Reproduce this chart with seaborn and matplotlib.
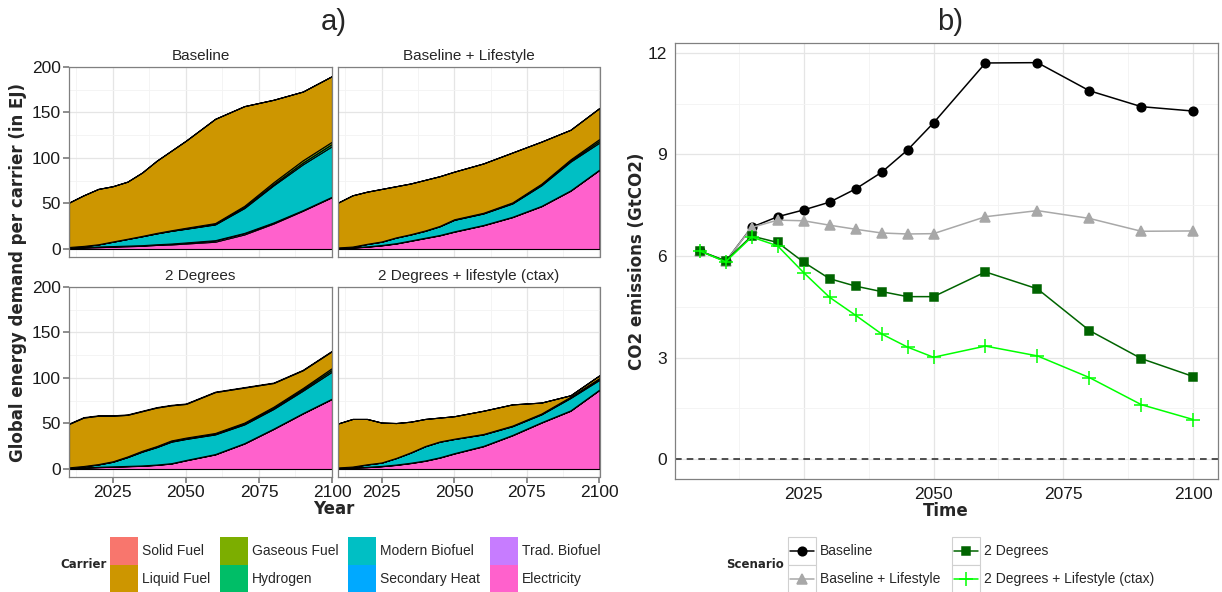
import matplotlib
matplotlib.use("Agg")
import matplotlib.pyplot as plt
import seaborn as sns
import pandas as pd
from matplotlib.patches import Rectangle
from matplotlib.lines import Line2D

# ---------------- data: panel a (EJ per carrier) ----------------
years = [2010, 2015, 2020, 2025, 2030, 2035, 2040, 2045, 2050, 2060, 2070, 2080, 2090, 2100]

carriers = ["Solid Fuel", "Liquid Fuel", "Gaseous Fuel", "Hydrogen",
            "Modern Biofuel", "Secondary Heat", "Trad. Biofuel", "Electricity"]
carrier_colors = ["#F8766D", "#CD9600", "#7CAE00", "#00BE67",
                  "#00BFC4", "#00A9FF", "#C77CFF", "#FF61CC"]
scenarios_a = ["Baseline", "Baseline + Lifestyle", "2 Degrees", "2 Degrees + lifestyle (ctax)"]

# Baseline
base_electricity = [1, 1.5, 2, 2.5, 3, 3.5, 4.5, 5, 6, 8, 16, 28, 42, 57]
base_tradbio     = [0.5, 0.5, 0.5, 0.5, 0.5, 0.5, 0.5, 0.8, 1, 1.5, 1.5, 1, 0.5, 0.3]
base_secheat     = [0.2] * 14
base_modbio      = [0.3, 1, 2.3, 4.8, 7.3, 9.8, 12, 14, 15, 17.3, 27.3, 40.8, 50.3, 55.5]
base_hydrogen    = [0, 0, 0, 0, 0, 0, 0, 0, 0.3, 0.5, 1, 1.5, 2, 2.5]
base_gas         = [0.2, 0.2, 0.2, 0.3, 0.3, 0.4, 0.5, 0.6, 0.8, 1, 1.5, 2, 2.5, 2.5]
base_liquid      = [48.8, 55.6, 60.8, 60.7, 62.7, 69.6, 79.3, 87.4, 95.7, 114.5, 109.5, 90.5, 75.5, 72]
base_solid       = [0] * 14

# Baseline + Lifestyle
life_electricity = [1, 1.5, 2.5, 4, 6, 9, 12, 15, 19, 26, 35, 47, 64, 87]
life_tradbio     = [0.2] * 14
life_secheat     = [0.2] * 14
life_modbio      = [0.1, 0.6, 2.6, 3.6, 6.1, 6.6, 7.6, 9.6, 12.6, 12.6, 14.6, 22.6, 31.6, 29.6]
life_hydrogen    = [0, 0, 0, 0, 0, 0, 0, 0, 0.2, 0.3, 0.5, 0.8, 1.2, 2]
life_gas         = [0.2, 0.2, 0.2, 0.3, 0.3, 0.3, 0.4, 0.4, 0.5, 0.5, 0.7, 1, 1.3, 2]
life_liquid      = [49.3, 56.3, 57.3, 57.7, 56.2, 55.7, 55.6, 54.6, 52.3, 54.2, 54.8, 46.2, 32.5, 34]
life_solid       = [0] * 14

# 2 Degrees
deg_electricity = [1, 1.5, 2, 2.5, 3, 3.5, 4.5, 6, 9.5, 16, 28, 44, 61, 77]
deg_tradbio     = [0.2] * 14
deg_secheat     = [0.2] * 14
deg_modbio      = [0.1, 1.1, 2.6, 5.1, 9.6, 15.1, 19.1, 23.6, 23.1, 21.6, 20.6, 21.6, 24.6, 29.6]
deg_hydrogen    = [0, 0, 0, 0, 0.2, 0.3, 0.4, 0.5, 0.5, 0.6, 0.8, 1, 1.5, 2]
deg_gas         = [0.3, 0.3, 0.4, 0.5, 0.6, 0.7, 0.8, 0.9, 1, 1, 1.2, 1.5, 1.5, 2]
deg_liquid      = [47.7, 53.2, 53.1, 50, 45.7, 43.5, 42.3, 38.6, 37, 44.9, 38.5, 26, 19.5, 18.5]
deg_solid       = [0.5] * 14

# 2 Degrees + lifestyle (ctax)
ctax_electricity = [1, 1.5, 2, 3, 4.5, 6.5, 9, 12.5, 17, 25, 37, 51, 64, 87]
ctax_tradbio     = [0.2] * 14
ctax_secheat     = [0.2] * 14
ctax_modbio      = [0.1, 0.6, 2.6, 3.6, 7.1, 11.1, 15.6, 17.1, 15.6, 12.6, 9.6, 8.6, 13.6, 10.6]
ctax_hydrogen    = [0, 0, 0, 0, 0, 0, 0, 0, 0, 0.1, 0.2, 0.4, 0.6, 1]
ctax_gas         = [0.2, 0.2, 0.2, 0.2, 0.2, 0.3, 0.3, 0.3, 0.3, 0.4, 0.5, 0.6, 0.8, 1]
ctax_liquid      = [48.3, 52.3, 49.8, 43.8, 38.3, 33.7, 29.7, 26.2, 24.7, 25.5, 23.3, 12, 1.6, 3]
ctax_solid       = [0] * 14

# ---------------- data: panel b (GtCO2) ----------------
t_years = [2005, 2010, 2015, 2020, 2025, 2030, 2035, 2040, 2045, 2050, 2060, 2070, 2080, 2090, 2100]
co2_baseline  = [6.15, 5.84, 6.85, 7.16, 7.36, 7.59, 7.98, 8.47, 9.13, 9.93, 11.70, 11.71, 10.88, 10.41, 10.28]
co2_lifestyle = [6.15, 5.84, 6.84, 7.06, 7.04, 6.91, 6.79, 6.68, 6.65, 6.66, 7.16, 7.34, 7.11, 6.73, 6.74]
co2_2deg      = [6.15, 5.86, 6.59, 6.40, 5.82, 5.33, 5.11, 4.95, 4.80, 4.80, 5.53, 5.03, 3.80, 2.97, 2.44]
co2_2deg_ls   = [6.15, 5.83, 6.56, 6.30, 5.51, 4.78, 4.25, 3.70, 3.31, 3.01, 3.34, 3.05, 2.41, 1.61, 1.17]
scenarios_b = ["Baseline", "Baseline + Lifestyle", "2 Degrees", "2 Degrees + Lifestyle (ctax)"]
scen_colors = ["#000000", "#A8A8A8", "#006400", "#00FF00"]
scen_markers = ["o", "^", "s", "+"]

# ---------------- styling ----------------
sns.set_theme(style="white")
plt.rcParams['font.family'] = ['Liberation Sans', 'DejaVu Sans']

W, H = 1222, 592
def box(l, t, r, b):
    return [l / W, 1 - b / H, (r - l) / W, (b - t) / H]
def fx(x):
    return x / W
def fy(y):
    return 1 - y / H

fig = plt.figure(figsize=(W / 100, H / 100), dpi=100)
fig.patch.set_facecolor("white")

grid_major = "#E5E5E5"
grid_minor = "#F3F3F3"
spine_col = "#808080"
title_font = dict(family="DejaVu Sans", weight="bold", size=12)

def style_axes(ax):
    ax.set_axisbelow(True)
    ax.grid(True, which="major", color=grid_major, lw=0.9)
    ax.grid(True, which="minor", color=grid_minor, lw=0.6)
    for s in ax.spines.values():
        s.set_color(spine_col)
        s.set_linewidth(0.9)
    ax.set_facecolor("white")

# ---------------- panel a ----------------
panel_layers = [
    [base_electricity, base_tradbio, base_secheat, base_modbio, base_hydrogen, base_gas, base_liquid, base_solid],
    [life_electricity, life_tradbio, life_secheat, life_modbio, life_hydrogen, life_gas, life_liquid, life_solid],
    [deg_electricity, deg_tradbio, deg_secheat, deg_modbio, deg_hydrogen, deg_gas, deg_liquid, deg_solid],
    [ctax_electricity, ctax_tradbio, ctax_secheat, ctax_modbio, ctax_hydrogen, ctax_gas, ctax_liquid, ctax_solid],
]
stack_carriers = ["Electricity", "Trad. Biofuel", "Secondary Heat", "Modern Biofuel",
                  "Hydrogen", "Gaseous Fuel", "Liquid Fuel", "Solid Fuel"]
cmap = dict(zip(carriers, carrier_colors))
stack_colors = [cmap[c] for c in stack_carriers]

boxes = [(69, 67, 332, 257), (338, 67, 599.5, 257), (69, 287, 332, 477), (338, 287, 599.5, 477)]
for i, (name, layers, bx) in enumerate(zip(scenarios_a, panel_layers, boxes)):
    ax = fig.add_axes(box(*bx))
    style_axes(ax)
    ax.stackplot(years, layers, colors=stack_colors, edgecolor="black", linewidth=0.8)
    ax.set_xlim(2010, 2100)
    ax.set_ylim(-8.8, 200)
    ax.set_xticks([2025, 2050, 2075, 2100])
    ax.set_xticks([2012.5, 2037.5, 2062.5, 2087.5], minor=True)
    ax.set_yticks([0, 50, 100, 150, 200])
    ax.set_yticks([25, 75, 125, 175], minor=True)
    ax.tick_params(which="minor", length=0)
    left = (i % 2 == 0)
    bottom = (i >= 2)
    ax.tick_params(axis="y", which="major", left=left, labelleft=left, length=4,
                   color=spine_col, labelsize=12.5, labelcolor="#1a1a1a", pad=2)
    ax.tick_params(axis="x", which="major", bottom=bottom, labelbottom=bottom, length=4,
                   color=spine_col, labelsize=12.5, labelcolor="#1a1a1a", pad=2)
    ax.text(0.5, 1.02, name, transform=ax.transAxes, ha="center", va="bottom", fontsize=11)

fig.text(fx(334), fy(22), "a)", ha="center", va="center", fontsize=21)
fig.text(fx(334), fy(509), "Year", ha="center", va="center", **title_font)
fig.text(fx(18), fy(272), "Global energy demand per carrier (in EJ)", rotation=90,
         ha="center", va="center", **title_font)

# ---------------- panel b ----------------
axb = fig.add_axes(box(675, 43, 1218, 479))
style_axes(axb)
axb.axhline(0, color="#333333", ls=(0, (4, 3)), lw=1.2, zorder=1)
series_b = [co2_baseline, co2_lifestyle, co2_2deg, co2_2deg_ls]
msizes = [6.2, 7.0, 6.0, 9.5]
for name, vals, col, mk, ms in zip(scenarios_b, series_b, scen_colors, scen_markers, msizes):
    df = pd.DataFrame({"Time": t_years, "CO2": vals})
    sns.lineplot(data=df, x="Time", y="CO2", ax=axb, color=col, marker=mk, markersize=ms,
                 mec=col, mfc=col, mew=1.1, lw=1.1, legend=False, zorder=3)
axb.set_xlim(2000.25, 2104.75)
axb.set_ylim(-0.585, 12.29)
axb.set_xticks([2025, 2050, 2075, 2100])
axb.set_xticks([2012.5, 2037.5, 2062.5, 2087.5], minor=True)
axb.set_yticks([0, 3, 6, 9, 12])
axb.set_yticks([1.5, 4.5, 7.5, 10.5], minor=True)
axb.tick_params(which="minor", length=0)
axb.tick_params(which="major", length=4, color=spine_col, labelsize=12.5,
                labelcolor="#1a1a1a", pad=2)
axb.set_xlabel("")
axb.set_ylabel("")
fig.text(fx(950), fy(22), "b)", ha="center", va="center", fontsize=21)
fig.text(fx(946), fy(511), "Time", ha="center", va="center", **title_font)
fig.text(fx(637), fy(261), "CO2 emissions (GtCO2)", rotation=90,
         ha="center", va="center", **title_font)

# ---------------- legends ----------------
leg_font = 10
fig.text(fx(84), fy(565), "Carrier", ha="center", va="center",
         family="DejaVu Sans", weight="bold", size=8.5)
key_cols = [110, 220, 348, 490]
row_tops = [537, 565]
kw, kh = 28, 27.5
for i, (c, col) in enumerate(zip(carriers, carrier_colors)):
    x0 = key_cols[i // 2]
    t0 = row_tops[i % 2]
    fig.add_artist(Rectangle((fx(x0), fy(t0 + kh)), kw / W, kh / H, transform=fig.transFigure,
                             facecolor=col, edgecolor="none"))
    fig.text(fx(x0 + kw + 4), fy(t0 + kh / 2), c, ha="left", va="center", fontsize=leg_font)

fig.text(fx(755), fy(565), "Scenario", ha="center", va="center",
         family="DejaVu Sans", weight="bold", size=8.5)
scol_x = [788, 952]
for i, (name, col, mk, ms) in enumerate(zip(scenarios_b, scen_colors, scen_markers, msizes)):
    x0 = scol_x[i // 2]
    t0 = row_tops[i % 2]
    fig.add_artist(Rectangle((fx(x0), fy(t0 + kh)), kw / W, kh / H, transform=fig.transFigure,
                             facecolor="white", edgecolor="#D0D0D0", lw=0.8))
    cy = fy(t0 + kh / 2)
    fig.add_artist(Line2D([fx(x0 + 2), fx(x0 + kw - 2)], [cy, cy], transform=fig.transFigure,
                          color=col, lw=1.1))
    fig.add_artist(Line2D([fx(x0 + kw / 2)], [cy], transform=fig.transFigure, color=col,
                          marker=mk, markersize=ms, mec=col, mfc=col, mew=1.1, lw=0))
    fig.text(fx(x0 + kw + 4), cy, name, ha="left", va="center", fontsize=leg_font)

fig.savefig("out.png", dpi=100, facecolor="white")
